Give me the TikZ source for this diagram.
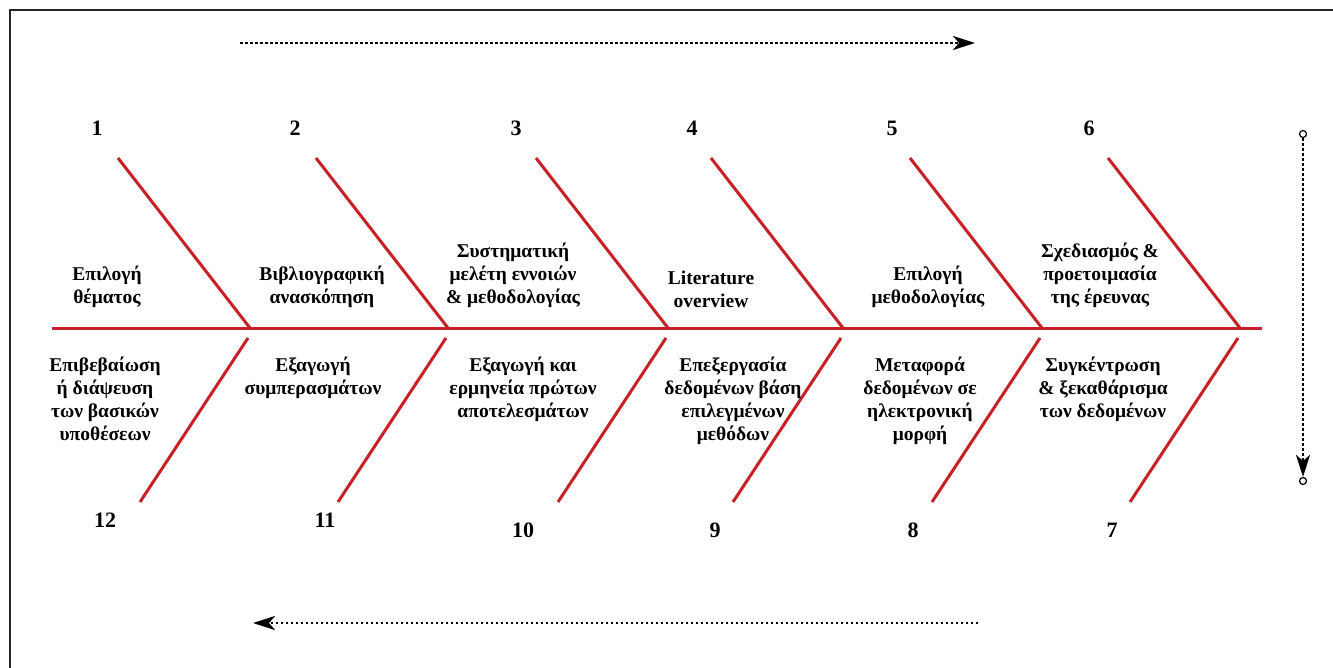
\documentclass[tikz,border=0pt]{standalone}
\usepackage{fontspec}
\setmainfont{Liberation Serif}
\usetikzlibrary{arrows.meta}
\definecolor{bonered}{RGB}{200,32,38}
\begin{document}
\begin{tikzpicture}[x=1pt,y=-1pt,
  bone/.style={draw=bonered, line width=3pt},
  lbl/.style={font=\bfseries\fontsize{19.5}{23}\selectfont, align=center, inner sep=0pt},
  num/.style={font=\bfseries\fontsize{22}{24}\selectfont, inner sep=0pt},
  flow/.style={line width=2.8pt, dash pattern=on 2.5pt off 2.5pt,
    -{Stealth[length=22pt,width=14pt,inset=6pt]}},
  endring/.style={circle, draw, fill=white, inner sep=0pt, minimum size=7pt, line width=1.2pt},
]
\useasboundingbox (0,0) rectangle (1333,668);
\fill[white] (0,0) rectangle (1333,668);
\draw[line width=2pt, black!85] (10,668) -- (10,10) -- (1333,10);

% direction arrows
\coordinate (ta1) at (240,43);
\coordinate (ta2) at (975,43);
\draw[flow] (ta1) -- (ta2);
\coordinate (ba1) at (978,623);
\coordinate (ba2) at (253,623);
\draw[flow] (ba1) -- (ba2);
\node[endring] (vt) at (1303,134) {};
\node[endring] (vb) at (1303,481) {};
\draw[flow] (vt) -- (vb);

% spine
\coordinate (sp0) at (52,328);
\coordinate (sp1) at (1262,328);
\draw[bone] (sp0) -- (sp1);

% bones: junctions on the spine
\foreach \i/\x in {1/250,2/448,3/668,4/843,5/1042,6/1240}{
  \coordinate (j\i) at (\x,328);
  \coordinate (t\i) at (\x-132,158);
  \draw[bone] (t\i) -- (j\i);
}
\foreach \i/\x in {12/250,11/448,10/668,9/843,8/1042,7/1240}{
  \coordinate (s\i) at (\x-2,338);
  \coordinate (e\i) at (\x-110,502);
  \draw[bone] (s\i) -- (e\i);
}

% step numbers
\node[num] (n1) at (97,128) {1};
\node[num] (n2) at (295,128) {2};
\node[num] (n3) at (516,128) {3};
\node[num] (n4) at (692,128) {4};
\node[num] (n5) at (892,128) {5};
\node[num] (n6) at (1089,128) {6};
\node[num] (n12) at (105,520) {12};
\node[num] (n11) at (325,520) {11};
\node[num] (n10) at (523,530) {10};
\node[num] (n9) at (715,530) {9};
\node[num] (n8) at (913,530) {8};
\node[num] (n7) at (1112,530) {7};

% upper labels
\node[lbl, anchor=south] (a1) at (107,308) {Επιλογή\\θέματος};
\node[lbl, anchor=south] (a2) at (322,308) {Βιβλιογραφική\\ανασκόπηση};
\node[lbl, anchor=south] (a3) at (513,308) {Συστηματική\\μελέτη εννοιών\\\& μεθοδολογίας};
\node[lbl, anchor=south] (a4) at (711,308) {Literature\\overview};
\node[lbl, anchor=south] (a5) at (928,308) {Επιλογή\\μεθοδολογίας};
\node[lbl, anchor=south] (a6) at (1100,308) {Σχεδιασμός \&\\προετοιμασία\\της έρευνας};

% lower labels
\node[lbl, anchor=north] (b12) at (105,357) {Επιβεβαίωση\\ή διάψευση\\των βασικών\\υποθέσεων};
\node[lbl, anchor=north] (b11) at (313,357) {Εξαγωγή\\συμπερασμάτων};
\node[lbl, anchor=north] (b10) at (523,357) {Εξαγωγή και\\ερμηνεία πρώτων\\αποτελεσμάτων};
\node[lbl, anchor=north] (b9) at (733,357) {Επεξεργασία\\δεδομένων βάση\\επιλεγμένων\\μεθόδων};
\node[lbl, anchor=north] (b8) at (920,357) {Μεταφορά\\δεδομένων σε\\ηλεκτρονική\\μορφή};
\node[lbl, anchor=north] (b7) at (1103,357) {Συγκέντρωση\\\& ξεκαθάρισμα\\των δεδομένων};
\end{tikzpicture}
\end{document}
